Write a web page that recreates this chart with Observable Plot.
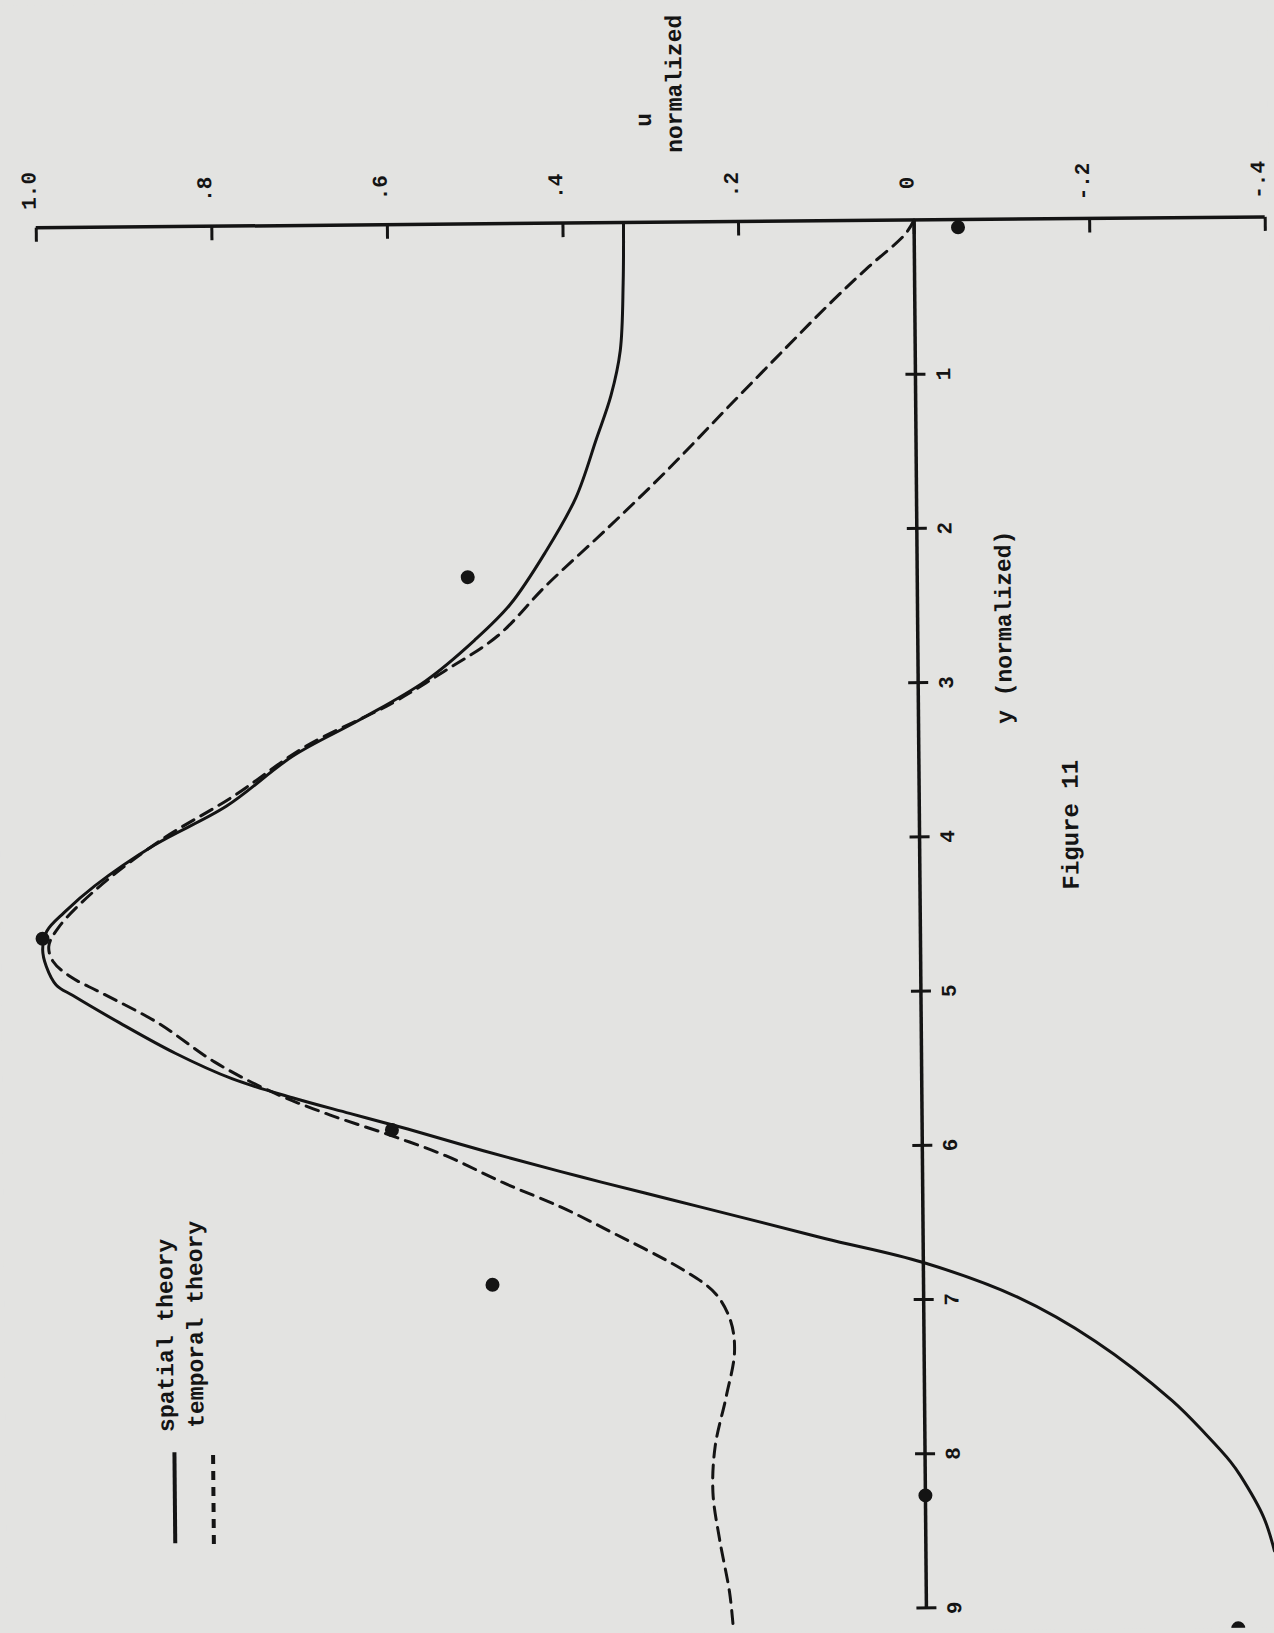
<!DOCTYPE html>
<html>
<head>
<meta charset="utf-8">
<script src="https://cdn.jsdelivr.net/npm/d3@7"></script>
<script src="https://cdn.jsdelivr.net/npm/@observablehq/plot@0.6"></script>
<style>
  html, body { margin: 0; padding: 0; background: #e3e3e1; overflow: hidden; }
  #chart svg { display: block; transform: rotate(-0.51deg); transform-origin: 637px 816px; }
</style>
</head>
<body>
<div id="chart"></div>
<script>
// ---- Data (y normalized, u normalized) ----
const spatialY = [0, 0.39, 0.83, 1.12, 1.40, 1.78, 2.13, 2.47, 2.70, 2.96, 3.21, 3.44, 3.76, 4.01, 4.27, 4.44, 4.56, 4.68, 4.79, 4.91, 4.98, 5.16, 5.36, 5.53, 5.655, 5.76, 5.865, 6.01, 6.15, 6.22, 6.34, 6.45, 6.60, 6.76, 6.99, 7.28, 7.67, 7.89, 8.07, 8.16, 8.43, 8.65];
const spatialU = [0.331, 0.332, 0.336, 0.347, 0.364, 0.388, 0.423, 0.464, 0.505, 0.561, 0.637, 0.713, 0.789, 0.872, 0.94, 0.975, 0.995, 1.0, 0.996, 0.985, 0.966, 0.913, 0.85, 0.785, 0.717, 0.652, 0.586, 0.5, 0.412, 0.366, 0.285, 0.211, 0.111, 0.0, -0.107, -0.195, -0.282, -0.32, -0.348, -0.359, -0.385, -0.397];

const temporalY = [0, 0.09, 0.30, 0.51, 0.82, 1.21, 1.61, 1.99, 2.35, 2.67, 2.90, 3.11, 3.38, 3.70, 3.98, 4.30, 4.54, 4.66, 4.76, 4.86, 4.96, 5.16, 5.42, 5.62, 5.77, 5.90, 6.04, 6.22, 6.38, 6.53, 6.80, 6.95, 7.13, 7.33, 7.62, 7.94, 8.24, 8.54, 8.89, 9.13];
const temporalU = [0, 0.01, 0.052, 0.092, 0.147, 0.215, 0.284, 0.354, 0.423, 0.478, 0.54, 0.602, 0.699, 0.782, 0.865, 0.94, 0.982, 0.993, 0.988, 0.968, 0.935, 0.87, 0.805, 0.739, 0.674, 0.608, 0.543, 0.477, 0.412, 0.36, 0.272, 0.237, 0.22, 0.216, 0.226, 0.239, 0.242, 0.235, 0.224, 0.22];

const pointsY = [0.05, 2.29, 4.61, 5.87, 6.88, 8.27, 9.15];
const pointsU = [-0.05, 0.512, 1.0, 0.604, 0.491, 0.0, -0.355];

const uTicks = [1.0, 0.8, 0.6, 0.4, 0.2, 0, -0.2, -0.4];
const uTickLabels = ["1.0", ".8", ".6", ".4", ".2", "0", "-.2", "-.4"];
const yTicks = [1, 2, 3, 4, 5, 6, 7, 8, 9];
const yTickLabels = ["1", "2", "3", "4", "5", "6", "7", "8", "9"];

const seriesNames = ["spatial theory", "temporal theory"];
const xTitle = "y (normalized)";
const uTitle = ["u", "normalized"];
const figTitle = "Figure 11";

// ---- Tables built from the arrays ----
const spatial = spatialY.map((y, i) => ({y, u: spatialU[i]}));
const temporal = temporalY.map((y, i) => ({y, u: temporalU[i]}));
const points = pointsY.map((y, i) => ({y, u: pointsU[i]}));

// ---- Styling / layout ----
const INK = "#141414";
const MONO = "'Liberation Mono', 'DejaVu Sans Mono', monospace";
const DASH = "13,8";

// custom tick symbols
const tickDown = { draw(ctx) { ctx.moveTo(0, 0); ctx.lineTo(0, 14); } };
const tickCross = { draw(ctx) { ctx.moveTo(-10, 0); ctx.lineTo(10, 0); } };

// label / legend placement (in chart units)
const uTitlePos = [{x: 0.307, y: -0.665}, {x: 0.272, y: -0.897}];
const xTitlePos = {x: -0.098, y: 2.646};
const figTitlePos = {x: -0.172, y: 3.93};
const legendU = [0.855, 0.811];
const legendY1 = [7.95, 7.97], legendY2 = [8.54, 8.56];
const legendTextU = [0.864, 0.830], legendTextY = [7.815, 7.79];

const chart = Plot.plot({
  width: 1274,
  height: 1633,
  marginTop: 222,
  marginBottom: 23,
  marginLeft: 41,
  marginRight: 4,
  style: { background: "#e3e3e1", color: INK },
  x: { domain: [1.0, -0.4], axis: null },
  y: { domain: [0, 9], reverse: true, axis: null },
  marks: [
    // axes lines
    Plot.ruleY([0], { x1: 1.0, x2: -0.4, stroke: INK, strokeWidth: 3.5 }),
    Plot.ruleX([0], { y1: 0, y2: 9, stroke: INK, strokeWidth: 3.5 }),
    // ticks
    Plot.dot(uTicks, { x: d => d, y: 0, symbol: tickDown, fill: "none", stroke: INK, strokeWidth: 3 }),
    Plot.dot(yTicks, { x: 0, y: d => d, symbol: tickCross, fill: "none", stroke: INK, strokeWidth: 3 }),
    // tick labels
    Plot.text(uTicks, { x: d => d, y: 0, text: (d, i) => uTickLabels[i], rotate: -90, dy: -37, dx: -7,
      fontFamily: MONO, fontWeight: "bold", fontSize: 21, fill: INK, textAnchor: "middle", lineAnchor: "middle" }),
    Plot.text(yTicks, { x: 0, y: d => d, text: (d, i) => yTickLabels[i], rotate: -90, dx: 28,
      fontFamily: MONO, fontWeight: "bold", fontSize: 21, fill: INK, textAnchor: "middle", lineAnchor: "middle" }),
    // axis titles
    Plot.text(uTitle, { x: (d, i) => uTitlePos[i].x, y: (d, i) => uTitlePos[i].y, text: d => d, rotate: -90,
      fontFamily: MONO, fontWeight: "bold", fontSize: 23, fill: INK, textAnchor: "middle", lineAnchor: "middle" }),
    Plot.text([xTitle], { x: xTitlePos.x, y: xTitlePos.y, text: d => d, rotate: -90, fontFamily: MONO, fontWeight: "bold",
      fontSize: 23, fill: INK, textAnchor: "middle", lineAnchor: "middle" }),
    Plot.text([figTitle], { x: figTitlePos.x, y: figTitlePos.y, text: d => d, rotate: -90, fontFamily: MONO, fontWeight: "bold",
      fontSize: 24, fill: INK, textAnchor: "middle", lineAnchor: "middle" }),
    // curves
    Plot.line(spatial, { x: "u", y: "y", curve: "catmull-rom", stroke: INK, strokeWidth: 3 }),
    Plot.line(temporal, { x: "u", y: "y", curve: "catmull-rom", stroke: INK, strokeWidth: 3, strokeDasharray: DASH }),
    // data points
    Plot.dot(points, { x: "u", y: "y", r: 7, fill: INK, stroke: "none" }),
    // legend
    Plot.ruleX([seriesNames[0]], { x: () => legendU[0], y1: () => legendY1[0], y2: () => legendY2[0],
      stroke: INK, strokeWidth: 4 }),
    Plot.ruleX([seriesNames[1]], { x: () => legendU[1], y1: () => legendY1[1], y2: () => legendY2[1],
      stroke: INK, strokeWidth: 4, strokeDasharray: "9,7" }),
    Plot.text(seriesNames, { x: (d, i) => legendTextU[i], y: (d, i) => legendTextY[i], text: d => d, rotate: -90,
      fontFamily: MONO, fontWeight: "bold", fontSize: 23, fill: INK, textAnchor: "start", lineAnchor: "middle" })
  ]
});

document.getElementById("chart").appendChild(chart);
</script>
</body>
</html>
